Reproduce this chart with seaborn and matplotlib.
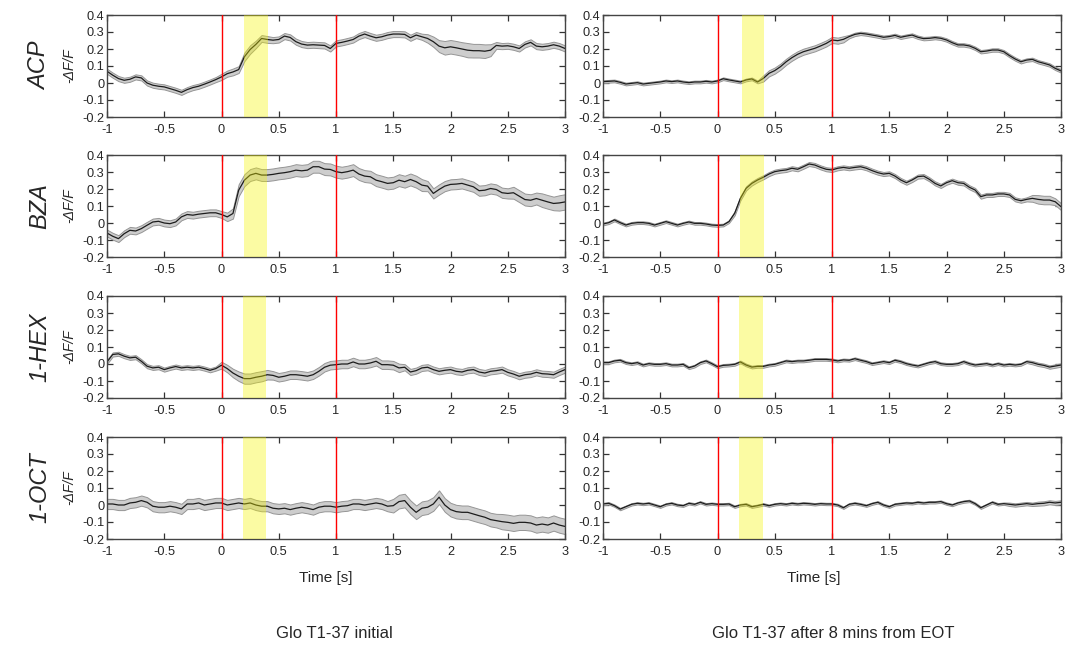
import matplotlib
matplotlib.use("Agg")
import matplotlib.pyplot as plt
import numpy as np
import pandas as pd
import seaborn as sns

odors = ["ACP", "BZA", "1-HEX", "1-OCT"]
conditions = ["Glo T1-37 initial", "Glo T1-37 after 8 mins from EOT"]

# sample grid, 0.05 s steps from -1 s to 3 s
time_s = np.round(np.arange(81) * 0.05 - 1.0, 2)

# mean -dF/F traces
acp_initial = [
    0.069, 0.046, 0.026, 0.016, 0.022, 0.036, 0.030, 0.000, -0.013, -0.019,
    -0.023, -0.033, -0.043, -0.055, -0.039, -0.027, -0.019, -0.007, 0.006, 0.020,
    0.036, 0.055, 0.065, 0.079, 0.154, 0.197, 0.227, 0.262, 0.256, 0.252,
    0.256, 0.276, 0.268, 0.243, 0.229, 0.223, 0.225, 0.223, 0.221, 0.203,
    0.233, 0.239, 0.247, 0.256, 0.276, 0.288, 0.276, 0.266, 0.272, 0.282,
    0.288, 0.288, 0.286, 0.266, 0.282, 0.272, 0.262, 0.243, 0.217, 0.207,
    0.213, 0.207, 0.200, 0.193, 0.190, 0.190, 0.187, 0.193, 0.221, 0.217,
    0.219, 0.213, 0.203, 0.227, 0.239, 0.217, 0.213, 0.217, 0.225, 0.217,
    0.203,
]
bza_initial = [
    -0.059, -0.078, -0.092, -0.063, -0.043, -0.047, -0.033, -0.013, 0.006, 0.010,
    0.000, -0.004, 0.006, 0.036, 0.050, 0.046, 0.052, 0.056, 0.060, 0.060,
    0.050, 0.036, 0.056, 0.193, 0.252, 0.282, 0.292, 0.282, 0.282, 0.286,
    0.292, 0.296, 0.302, 0.311, 0.307, 0.311, 0.331, 0.331, 0.317, 0.315,
    0.302, 0.296, 0.302, 0.311, 0.288, 0.276, 0.272, 0.252, 0.243, 0.233,
    0.237, 0.252, 0.243, 0.256, 0.243, 0.223, 0.217, 0.174, 0.197, 0.217,
    0.227, 0.229, 0.233, 0.223, 0.213, 0.190, 0.193, 0.203, 0.197, 0.178,
    0.174, 0.178, 0.158, 0.138, 0.134, 0.144, 0.134, 0.124, 0.115, 0.118,
    0.124,
]
hex_initial = [
    0.012, 0.056, 0.060, 0.046, 0.036, 0.040, 0.016, -0.013, -0.023, -0.019,
    -0.033, -0.023, -0.015, -0.023, -0.019, -0.023, -0.019, -0.027, -0.037, -0.027,
    -0.007, -0.027, -0.053, -0.072, -0.086, -0.086, -0.078, -0.072, -0.063, -0.067,
    -0.078, -0.072, -0.063, -0.063, -0.067, -0.072, -0.063, -0.043, -0.019, -0.007,
    -0.004, 0.000, 0.000, 0.012, 0.000, 0.000, 0.006, 0.016, -0.004, -0.004,
    -0.007, -0.023, -0.019, -0.047, -0.039, -0.023, -0.019, -0.033, -0.043, -0.037,
    -0.033, -0.043, -0.047, -0.037, -0.033, -0.047, -0.053, -0.043, -0.039, -0.033,
    -0.049, -0.059, -0.072, -0.063, -0.059, -0.049, -0.057, -0.059, -0.063, -0.047,
    -0.033,
]
oct_initial = [
    0.006, 0.006, 0.000, 0.000, 0.012, 0.016, 0.026, 0.016, -0.007, -0.013,
    -0.013, -0.007, -0.013, -0.023, 0.006, 0.006, 0.012, 0.000, 0.006, 0.012,
    0.012, 0.000, 0.006, 0.012, 0.006, 0.012, 0.000, -0.007, -0.007, -0.019,
    -0.023, -0.019, -0.027, -0.019, -0.013, -0.019, -0.027, -0.013, -0.007, -0.007,
    -0.013, -0.007, -0.004, 0.006, 0.006, 0.000, 0.006, 0.012, 0.006, -0.007,
    -0.004, 0.020, 0.026, -0.013, -0.043, -0.019, -0.013, 0.006, 0.046, 0.000,
    -0.027, -0.039, -0.043, -0.043, -0.053, -0.063, -0.072, -0.086, -0.092, -0.098,
    -0.102, -0.108, -0.102, -0.102, -0.106, -0.118, -0.112, -0.118, -0.106, -0.118,
    -0.126,
]
acp_after = [
    0.008, 0.010, 0.012, 0.004, -0.006, -0.002, 0.002, -0.006, -0.002, 0.002,
    0.006, 0.012, 0.008, 0.012, 0.006, 0.002, 0.006, 0.006, 0.010, 0.006,
    0.012, 0.025, 0.018, 0.012, 0.006, 0.018, 0.024, 0.006, 0.027, 0.057,
    0.073, 0.096, 0.125, 0.149, 0.169, 0.184, 0.194, 0.204, 0.218, 0.233,
    0.253, 0.249, 0.257, 0.273, 0.286, 0.292, 0.288, 0.282, 0.276, 0.269,
    0.273, 0.280, 0.269, 0.276, 0.282, 0.269, 0.261, 0.263, 0.267, 0.263,
    0.253, 0.237, 0.224, 0.224, 0.218, 0.204, 0.184, 0.188, 0.194, 0.194,
    0.184, 0.161, 0.141, 0.125, 0.135, 0.139, 0.125, 0.116, 0.106, 0.086,
    0.071,
]
bza_after = [
    -0.006, 0.002, 0.018, 0.002, -0.012, -0.002, 0.002, 0.002, -0.002, -0.012,
    -0.002, 0.008, -0.002, -0.012, -0.002, 0.006, -0.002, -0.002, -0.006, -0.012,
    -0.014, -0.012, 0.008, 0.057, 0.145, 0.204, 0.233, 0.253, 0.269, 0.288,
    0.302, 0.308, 0.312, 0.322, 0.316, 0.331, 0.347, 0.341, 0.327, 0.316,
    0.312, 0.322, 0.327, 0.322, 0.327, 0.331, 0.322, 0.308, 0.296, 0.288,
    0.292, 0.276, 0.253, 0.237, 0.253, 0.273, 0.276, 0.257, 0.233, 0.218,
    0.237, 0.249, 0.237, 0.233, 0.210, 0.194, 0.155, 0.165, 0.165, 0.171,
    0.171, 0.165, 0.139, 0.131, 0.139, 0.145, 0.139, 0.135, 0.135, 0.125,
    0.096,
]
hex_after = [
    0.008, 0.008, 0.018, 0.022, 0.008, 0.002, 0.008, -0.006, 0.002, -0.002,
    -0.002, 0.002, -0.006, -0.006, -0.002, -0.022, -0.012, 0.008, 0.018, 0.002,
    -0.016, -0.008, -0.006, -0.002, 0.012, -0.006, -0.018, -0.014, -0.014, -0.006,
    -0.002, 0.008, 0.018, 0.014, 0.018, 0.018, 0.022, 0.027, 0.027, 0.027,
    0.024, 0.018, 0.024, 0.022, 0.031, 0.022, 0.014, 0.002, 0.008, 0.014,
    0.008, 0.022, 0.014, 0.002, -0.006, -0.012, -0.002, 0.008, 0.014, 0.002,
    -0.002, -0.002, 0.002, 0.014, 0.002, -0.006, -0.002, 0.002, -0.006, 0.002,
    -0.006, -0.002, -0.006, -0.002, 0.014, 0.008, -0.002, -0.008, -0.018, -0.012,
    -0.006,
]
oct_after = [
    0.006, 0.010, -0.004, -0.024, -0.010, 0.004, 0.010, 0.006, 0.010, 0.000,
    -0.010, 0.004, 0.010, 0.000, -0.004, 0.010, 0.004, 0.016, 0.004, 0.008,
    0.004, 0.004, 0.006, -0.010, 0.000, 0.004, -0.010, -0.004, 0.004, -0.004,
    0.004, 0.008, 0.004, 0.010, 0.006, 0.010, 0.008, 0.004, 0.008, 0.006,
    0.006, 0.000, -0.016, 0.004, 0.010, 0.004, -0.004, 0.008, 0.016, 0.000,
    -0.010, 0.004, 0.008, 0.012, 0.010, 0.016, 0.012, 0.016, 0.016, 0.020,
    0.008, 0.000, 0.012, 0.020, 0.024, 0.008, -0.016, 0.000, 0.016, 0.004,
    0.008, 0.004, 0.000, 0.004, 0.008, 0.004, 0.008, 0.010, 0.016, 0.012,
    0.016,
]

# half width of the shaded SEM band
acp_initial_sem = [
    0.015, 0.015, 0.015, 0.015, 0.015, 0.015, 0.015, 0.015, 0.015, 0.015,
    0.015, 0.015, 0.015, 0.015, 0.015, 0.015, 0.015, 0.015, 0.015, 0.015,
    0.018, 0.018, 0.020, 0.020, 0.025, 0.025, 0.022, 0.020, 0.020, 0.018,
    0.018, 0.018, 0.018, 0.018, 0.018, 0.018, 0.018, 0.018, 0.018, 0.018,
    0.018, 0.018, 0.018, 0.018, 0.018, 0.018, 0.018, 0.018, 0.018, 0.018,
    0.018, 0.018, 0.018, 0.018, 0.018, 0.018, 0.025, 0.030, 0.035, 0.040,
    0.040, 0.040, 0.040, 0.042, 0.040, 0.040, 0.040, 0.035, 0.020, 0.018,
    0.018, 0.018, 0.018, 0.018, 0.018, 0.018, 0.018, 0.018, 0.018, 0.018,
    0.018,
]
bza_initial_sem = [
    0.020, 0.020, 0.020, 0.020, 0.020, 0.020, 0.020, 0.020, 0.020, 0.020,
    0.020, 0.020, 0.020, 0.020, 0.020, 0.020, 0.020, 0.020, 0.020, 0.020,
    0.020, 0.025, 0.030, 0.035, 0.035, 0.035, 0.035, 0.035, 0.035, 0.035,
    0.035, 0.035, 0.035, 0.035, 0.035, 0.035, 0.035, 0.035, 0.035, 0.035,
    0.035, 0.035, 0.035, 0.035, 0.035, 0.035, 0.035, 0.035, 0.035, 0.035,
    0.035, 0.035, 0.035, 0.035, 0.035, 0.035, 0.030, 0.030, 0.030, 0.030,
    0.030, 0.030, 0.030, 0.030, 0.030, 0.030, 0.030, 0.030, 0.030, 0.030,
    0.030, 0.035, 0.035, 0.035, 0.035, 0.035, 0.040, 0.040, 0.040, 0.045,
    0.045,
]
hex_initial_sem = [
    0.012, 0.012, 0.012, 0.012, 0.012, 0.012, 0.012, 0.012, 0.012, 0.012,
    0.012, 0.012, 0.012, 0.012, 0.012, 0.012, 0.012, 0.012, 0.012, 0.012,
    0.020, 0.022, 0.025, 0.028, 0.030, 0.030, 0.030, 0.030, 0.028, 0.025,
    0.025, 0.025, 0.025, 0.025, 0.025, 0.025, 0.025, 0.025, 0.025, 0.025,
    0.025, 0.025, 0.025, 0.025, 0.025, 0.025, 0.025, 0.025, 0.025, 0.025,
    0.025, 0.025, 0.018, 0.018, 0.018, 0.018, 0.018, 0.018, 0.018, 0.018,
    0.018, 0.018, 0.018, 0.018, 0.018, 0.018, 0.018, 0.018, 0.018, 0.018,
    0.018, 0.018, 0.018, 0.018, 0.018, 0.018, 0.018, 0.018, 0.018, 0.018,
    0.018,
]
oct_initial_sem = [
    0.030, 0.030, 0.030, 0.030, 0.030, 0.030, 0.030, 0.030, 0.030, 0.030,
    0.030, 0.030, 0.030, 0.030, 0.030, 0.030, 0.030, 0.030, 0.030, 0.030,
    0.030, 0.030, 0.030, 0.030, 0.030, 0.030, 0.030, 0.030, 0.030, 0.030,
    0.030, 0.030, 0.030, 0.030, 0.030, 0.030, 0.030, 0.030, 0.030, 0.030,
    0.030, 0.030, 0.030, 0.030, 0.030, 0.030, 0.030, 0.030, 0.030, 0.030,
    0.040, 0.040, 0.040, 0.040, 0.040, 0.040, 0.040, 0.040, 0.040, 0.040,
    0.040, 0.040, 0.040, 0.040, 0.040, 0.040, 0.040, 0.040, 0.040, 0.045,
    0.045, 0.045, 0.045, 0.045, 0.045, 0.045, 0.045, 0.045, 0.045, 0.045,
    0.045,
]
acp_after_sem = [
    0.008, 0.008, 0.008, 0.008, 0.008, 0.008, 0.008, 0.008, 0.008, 0.008,
    0.008, 0.008, 0.008, 0.008, 0.008, 0.008, 0.008, 0.008, 0.008, 0.008,
    0.008, 0.008, 0.008, 0.008, 0.008, 0.008, 0.008, 0.008, 0.018, 0.018,
    0.018, 0.018, 0.018, 0.018, 0.018, 0.018, 0.018, 0.018, 0.018, 0.018,
    0.018, 0.018, 0.018, 0.010, 0.010, 0.010, 0.010, 0.010, 0.010, 0.010,
    0.010, 0.010, 0.010, 0.010, 0.010, 0.010, 0.010, 0.010, 0.010, 0.010,
    0.010, 0.010, 0.010, 0.010, 0.010, 0.010, 0.010, 0.010, 0.010, 0.010,
    0.010, 0.010, 0.010, 0.010, 0.010, 0.010, 0.010, 0.010, 0.010, 0.010,
    0.010,
]
bza_after_sem = [
    0.008, 0.008, 0.008, 0.008, 0.008, 0.008, 0.008, 0.008, 0.008, 0.008,
    0.008, 0.008, 0.008, 0.008, 0.008, 0.008, 0.008, 0.008, 0.008, 0.008,
    0.008, 0.008, 0.008, 0.012, 0.012, 0.012, 0.012, 0.012, 0.012, 0.012,
    0.012, 0.012, 0.012, 0.012, 0.012, 0.012, 0.012, 0.012, 0.012, 0.012,
    0.012, 0.012, 0.012, 0.012, 0.012, 0.012, 0.012, 0.012, 0.012, 0.012,
    0.012, 0.012, 0.012, 0.012, 0.012, 0.012, 0.012, 0.012, 0.012, 0.012,
    0.012, 0.012, 0.012, 0.012, 0.012, 0.012, 0.012, 0.012, 0.012, 0.012,
    0.012, 0.012, 0.012, 0.012, 0.012, 0.020, 0.025, 0.025, 0.025, 0.020,
    0.020,
]
hex_after_sem = [
    0.008, 0.008, 0.008, 0.008, 0.008, 0.008, 0.008, 0.008, 0.008, 0.008,
    0.008, 0.008, 0.008, 0.008, 0.008, 0.008, 0.008, 0.008, 0.008, 0.008,
    0.008, 0.008, 0.008, 0.008, 0.008, 0.008, 0.008, 0.008, 0.008, 0.008,
    0.008, 0.008, 0.008, 0.008, 0.008, 0.008, 0.008, 0.008, 0.008, 0.008,
    0.008, 0.008, 0.008, 0.008, 0.008, 0.008, 0.008, 0.008, 0.008, 0.008,
    0.008, 0.008, 0.008, 0.008, 0.008, 0.008, 0.008, 0.008, 0.008, 0.008,
    0.008, 0.008, 0.008, 0.008, 0.008, 0.008, 0.008, 0.008, 0.008, 0.008,
    0.008, 0.008, 0.008, 0.008, 0.008, 0.010, 0.010, 0.010, 0.010, 0.010,
    0.010,
]
oct_after_sem = [
    0.007, 0.007, 0.007, 0.007, 0.007, 0.007, 0.007, 0.007, 0.007, 0.007,
    0.007, 0.007, 0.007, 0.007, 0.007, 0.007, 0.007, 0.007, 0.007, 0.007,
    0.007, 0.007, 0.007, 0.007, 0.007, 0.007, 0.007, 0.007, 0.007, 0.007,
    0.007, 0.007, 0.007, 0.007, 0.007, 0.007, 0.007, 0.007, 0.007, 0.007,
    0.007, 0.007, 0.007, 0.007, 0.007, 0.007, 0.007, 0.007, 0.007, 0.007,
    0.007, 0.007, 0.007, 0.007, 0.007, 0.007, 0.007, 0.007, 0.007, 0.007,
    0.007, 0.007, 0.007, 0.007, 0.007, 0.007, 0.007, 0.007, 0.007, 0.007,
    0.007, 0.010, 0.010, 0.010, 0.010, 0.010, 0.012, 0.012, 0.012, 0.012,
    0.012,
]

# stimulus markers (s): odour on / off and the yellow analysis window per panel
stim_lines = [0.0, 1.0]
windows_initial = [(0.20, 0.41), (0.20, 0.40), (0.19, 0.39), (0.19, 0.39)]
windows_after = [(0.21, 0.41), (0.20, 0.41), (0.19, 0.40), (0.19, 0.40)]

traces = {
    conditions[0]: [acp_initial, bza_initial, hex_initial, oct_initial],
    conditions[1]: [acp_after, bza_after, hex_after, oct_after],
}
sems = {
    conditions[0]: [acp_initial_sem, bza_initial_sem, hex_initial_sem, oct_initial_sem],
    conditions[1]: [acp_after_sem, bza_after_sem, hex_after_sem, oct_after_sem],
}
windows = {conditions[0]: windows_initial, conditions[1]: windows_after}

rows = []
for cond in conditions:
    for i, odor in enumerate(odors):
        for t, v, s in zip(time_s, traces[cond][i], sems[cond][i]):
            rows.append({"condition": cond, "odor": odor, "time": t, "dff": v, "sem": s})
df = pd.DataFrame(rows)

sns.set_style("ticks")
plt.rcParams['font.family'] = ['Liberation Sans', 'DejaVu Sans']

fig = plt.figure(figsize=(10.66, 6.5), dpi=100)

col_left = [107 / 1066, 603 / 1066]
col_width = [458 / 1066, 458 / 1066]
row_bottom = [1 - 117 / 650, 1 - 257 / 650, 1 - 398 / 650, 1 - 539 / 650]
row_height = 102 / 650

for c, cond in enumerate(conditions):
    for r, odor in enumerate(odors):
        ax = fig.add_axes([col_left[c], row_bottom[r], col_width[c], row_height])
        sub = df[(df["condition"] == cond) & (df["odor"] == odor)]
        ax.fill_between(sub["time"], sub["dff"] - sub["sem"], sub["dff"] + sub["sem"],
                        facecolor="#cdcdcd", edgecolor="#959595", linewidth=0.7, zorder=1)
        sns.lineplot(data=sub, x="time", y="dff", color="#1c1c1c", linewidth=0.9,
                     ax=ax, zorder=2)
        w0, w1 = windows[cond][r]
        ax.axvspan(w0, w1, facecolor="#f5f500", alpha=0.36, linewidth=0, zorder=3)
        for x in stim_lines:
            ax.axvline(x, color="red", linewidth=1.0, zorder=4)

        ax.set_xlim(-1, 3)
        ax.set_ylim(-0.2, 0.4)
        ax.set_xticks([-1, -0.5, 0, 0.5, 1, 1.5, 2, 2.5, 3])
        ax.set_xticklabels(["-1", "-0.5", "0", "0.5", "1", "1.5", "2", "2.5", "3"])
        ax.set_yticks([-0.2, -0.1, 0, 0.1, 0.2, 0.3, 0.4])
        ax.set_yticklabels(["-0.2", "-0.1", "0", "0.1", "0.2", "0.3", "0.4"])
        ax.tick_params(direction="in", top=True, right=True, length=4, width=0.9,
                       color="#333333", labelsize=9.2)
        ax.tick_params(axis="x", pad=5)
        ax.tick_params(axis="y", pad=2)
        for sp in ax.spines.values():
            sp.set_color("#444444")
            sp.set_linewidth(1.0)
        ax.set_xlabel("")
        if c == 0:
            ax.set_ylabel("-ΔF/F", fontsize=10, style="italic")
            ax.yaxis.set_label_coords(-0.066, 0.5)
            fig.text(40 / 1066, row_bottom[r] + row_height / 2, odor, rotation=90,
                     fontsize=17, style="italic", ha="center", va="center")
        else:
            ax.set_ylabel("")

fig.text(326 / 1066, 1 - 578 / 650, "Time [s]", fontsize=11, ha="center", va="center")
fig.text(814 / 1066, 1 - 578 / 650, "Time [s]", fontsize=11, ha="center", va="center")
fig.text(334 / 1066, 1 - 633 / 650, conditions[0], fontsize=12, ha="center", va="center")
fig.text(833 / 1066, 1 - 633 / 650, conditions[1], fontsize=12, ha="center", va="center")

fig.savefig("out.png", dpi=100)
